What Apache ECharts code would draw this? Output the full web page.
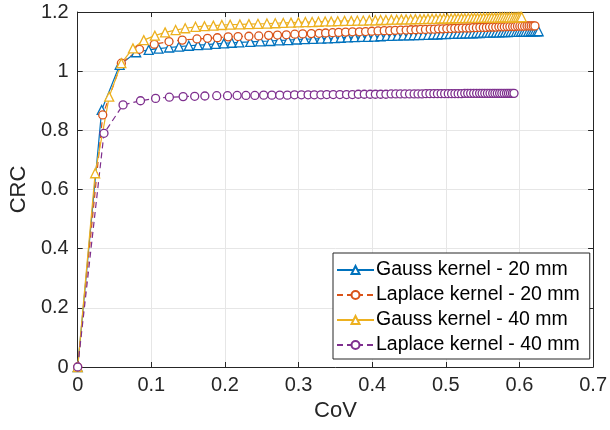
<!DOCTYPE html>
<html><head><meta charset="utf-8">
<script src="https://cdn.jsdelivr.net/npm/echarts@6/dist/echarts.min.js"></script>
<style>html,body{margin:0;padding:0;background:#fff}#c{width:610px;height:430px}</style>
</head><body><div id="c"></div>
<script>
const xTicks = [0,0.1,0.2,0.3,0.4,0.5,0.6,0.7];
const yTicks = [0,0.2,0.4,0.6,0.8,1,1.2];
const seriesNames = ['Gauss kernel - 20 mm','Laplace kernel - 20 mm','Gauss kernel - 40 mm','Laplace kernel - 40 mm'];

const gauss20X = [0,0.0326,0.057,0.0794,0.0964,0.1098,0.1241,0.1375,0.1509,0.1633,0.1755,0.1872,0.1985,0.2093,0.2195,0.2344,0.2479,0.2614,0.2735,0.2857,0.2973,0.3080,0.3198,0.3306,0.3394,0.3490,0.3573,0.3667,0.3762,0.3857,0.3941,0.4026,0.4112,0.4196,0.4271,0.4345,0.4422,0.4497,0.4563,0.4629,0.4694,0.4761,0.4826,0.4883,0.4939,0.4997,0.5053,0.5110,0.5162,0.5214,0.5265,0.5317,0.5365,0.5412,0.5458,0.5506,0.5553,0.5595,0.5638,0.5681,0.5723,0.5766,0.5803,0.5840,0.5879,0.5916,0.5954,0.5987,0.6021,0.6053,0.6084,0.6119,0.6152,0.6180,0.6208,0.6237,0.6260];
const gauss20Y = [0,0.869,1.021,1.064,1.072,1.076,1.080,1.083,1.086,1.088,1.090,1.092,1.094,1.096,1.097,1.099,1.101,1.102,1.104,1.105,1.107,1.108,1.109,1.110,1.111,1.112,1.113,1.114,1.115,1.116,1.116,1.117,1.118,1.119,1.119,1.120,1.121,1.121,1.122,1.122,1.123,1.123,1.124,1.124,1.125,1.125,1.126,1.126,1.127,1.127,1.128,1.128,1.128,1.129,1.129,1.130,1.130,1.130,1.131,1.131,1.131,1.132,1.132,1.132,1.133,1.133,1.133,1.133,1.134,1.134,1.134,1.134,1.135,1.135,1.135,1.135,1.135];

const laplace20X = [0,0.034,0.0593,0.0839,0.104,0.124,0.142,0.162,0.1763,0.1897,0.2044,0.2178,0.2325,0.2459,0.2593,0.2713,0.2834,0.2949,0.3056,0.3173,0.328,0.3367,0.3462,0.3545,0.3638,0.3732,0.3826,0.3910,0.3994,0.4079,0.4163,0.4237,0.4311,0.4387,0.4461,0.4527,0.4592,0.4657,0.4723,0.4788,0.4844,0.4900,0.4957,0.5013,0.5069,0.5121,0.5173,0.5223,0.5275,0.5322,0.5369,0.5415,0.5462,0.5509,0.5551,0.5593,0.5636,0.5678,0.5720,0.5757,0.5794,0.5832,0.5869,0.5907,0.5939,0.5973,0.6005,0.6036,0.6070,0.6103,0.6131,0.6159,0.6187,0.6210];
const laplace20Y = [0,0.852,1.027,1.074,1.091,1.100,1.105,1.109,1.111,1.113,1.116,1.117,1.118,1.119,1.121,1.122,1.123,1.125,1.126,1.127,1.128,1.129,1.130,1.131,1.132,1.133,1.133,1.134,1.135,1.136,1.137,1.137,1.138,1.139,1.139,1.140,1.140,1.141,1.141,1.142,1.142,1.143,1.143,1.144,1.144,1.145,1.145,1.146,1.146,1.146,1.147,1.147,1.148,1.148,1.148,1.149,1.149,1.149,1.150,1.150,1.150,1.151,1.151,1.151,1.151,1.152,1.152,1.152,1.152,1.153,1.153,1.153,1.153,1.153];

const gauss40X = [0,0.0237,0.0428,0.0593,0.075,0.0897,0.1048,0.1187,0.133,0.146,0.16,0.1722,0.1842,0.1958,0.2071,0.2203,0.2325,0.2448,0.2570,0.2683,0.2792,0.2897,0.2997,0.3092,0.3184,0.3270,0.3361,0.3443,0.3532,0.3624,0.3715,0.3797,0.3878,0.3961,0.4042,0.4114,0.4186,0.4260,0.4332,0.4396,0.4459,0.4522,0.4586,0.4649,0.4703,0.4758,0.4813,0.4867,0.4922,0.4972,0.5023,0.5072,0.5122,0.5167,0.5213,0.5258,0.5304,0.5350,0.5390,0.5431,0.5473,0.5513,0.5554,0.5590,0.5626,0.5663,0.5699,0.5735,0.5767,0.5799,0.5831,0.5861,0.5894,0.5926,0.5953,0.5981,0.6008,0.6030];
const gauss40Y = [0,0.655,0.914,1.027,1.077,1.105,1.120,1.131,1.139,1.145,1.150,1.152,1.154,1.156,1.157,1.158,1.159,1.160,1.161,1.162,1.163,1.164,1.165,1.166,1.166,1.167,1.168,1.168,1.169,1.170,1.170,1.171,1.171,1.172,1.172,1.173,1.173,1.174,1.174,1.175,1.175,1.175,1.176,1.176,1.176,1.177,1.177,1.177,1.178,1.178,1.178,1.178,1.179,1.179,1.179,1.179,1.180,1.180,1.180,1.180,1.180,1.181,1.181,1.181,1.181,1.181,1.181,1.182,1.182,1.182,1.182,1.182,1.182,1.182,1.182,1.183,1.183,1.183];

const laplace40X = [0,0.0357,0.0616,0.0853,0.1058,0.1245,0.1432,0.1589,0.1727,0.1888,0.2035,0.2165,0.2285,0.2406,0.2526,0.2637,0.2744,0.2847,0.2945,0.3039,0.3129,0.3213,0.3303,0.3383,0.3471,0.3561,0.3651,0.3731,0.3811,0.3892,0.3972,0.4043,0.4114,0.4186,0.4257,0.4320,0.4382,0.4444,0.4507,0.4569,0.4622,0.4676,0.4730,0.4783,0.4837,0.4886,0.4936,0.4984,0.5033,0.5078,0.5123,0.5167,0.5212,0.5257,0.5297,0.5337,0.5378,0.5418,0.5458,0.5493,0.5529,0.5565,0.5600,0.5636,0.5667,0.5699,0.5730,0.5760,0.5792,0.5823,0.5850,0.5877,0.5904,0.5926];
const laplace40Y = [0,0.790,0.886,0.900,0.908,0.912,0.914,0.915,0.916,0.917,0.917,0.918,0.918,0.918,0.919,0.919,0.919,0.919,0.920,0.920,0.920,0.920,0.920,0.921,0.921,0.921,0.921,0.921,0.922,0.922,0.922,0.922,0.922,0.922,0.923,0.923,0.923,0.923,0.923,0.923,0.923,0.923,0.924,0.924,0.924,0.924,0.924,0.924,0.924,0.924,0.924,0.924,0.924,0.925,0.925,0.925,0.925,0.925,0.925,0.925,0.925,0.925,0.925,0.925,0.925,0.925,0.925,0.925,0.925,0.925,0.925,0.925,0.925,0.925];

const colors = ['#0072BD','#D95319','#EDB120','#7E2F8E'];
const FONT = '"Liberation Sans", Arial, Helvetica, sans-serif';
const AX = '#262626';

function zip(xs, ys){ return xs.map((x,i)=>[x, ys[i]]); }

function mkSeries(name, xs, ys, color, symbol, size, dashed){
  return {
    name, type:'line', data: zip(xs, ys), clip:false,
    symbol, symbolSize:size, showAllSymbol:true,
    lineStyle:{color, width:1.2, type: dashed ? [6,4] : 'solid'},
    itemStyle:{color:'#ffffff', borderColor:color, borderWidth:1.3},
    emphasis:{disabled:true}, animation:false
  };
}

const chart = echarts.init(document.getElementById('c'), null, {renderer:'canvas'});
const axisCommon = {
  type:'value', axisLine:{show:true, onZero:false, lineStyle:{color:AX, width:1}},
  axisTick:{show:true, inside:true, length:5, lineStyle:{color:AX}},
};
chart.setOption({
  animation:false,
  grid:{left:74, right:13, top:12, bottom:63, containLabel:false},
  xAxis:[
    Object.assign({}, axisCommon, {min:xTicks[0], max:xTicks[xTicks.length-1], interval:0.1, position:'bottom',
      name:'CoV', nameLocation:'middle', nameGap:32, nameTextStyle:{fontFamily:FONT, fontSize:22, color:AX},
      axisLabel:{fontFamily:FONT, fontSize:20, color:AX, margin:8, formatter:v=>String(+v.toFixed(2))},
      splitLine:{show:true, lineStyle:{color:'#e6e6e6', width:1}}}),
    Object.assign({}, axisCommon, {min:xTicks[0], max:xTicks[xTicks.length-1], interval:0.1, position:'top',
      axisLabel:{show:false}, splitLine:{show:false}})
  ],
  yAxis:[
    Object.assign({}, axisCommon, {min:yTicks[0], max:yTicks[yTicks.length-1], interval:0.2, position:'left',
      name:'CRC', nameLocation:'middle', nameGap:41, nameTextStyle:{fontFamily:FONT, fontSize:22, color:AX},
      axisLabel:{fontFamily:FONT, fontSize:20, color:AX, margin:9, formatter:v=>String(+v.toFixed(2))},
      splitLine:{show:true, lineStyle:{color:'#e6e6e6', width:1}}}),
    Object.assign({}, axisCommon, {min:yTicks[0], max:yTicks[yTicks.length-1], interval:0.2, position:'right',
      axisLabel:{show:false}, splitLine:{show:false}})
  ],
  legend:{
    orient:'vertical', left:333, top:253,
    backgroundColor:'#ffffff', borderColor:AX, borderWidth:1,
    padding:[7,10,4,3], itemWidth:37, itemHeight:10, itemGap:5,
    textStyle:{fontFamily:FONT, fontSize:19.5, color:'#000000', padding:[0,0,0,-3]},
    data: seriesNames
  },
  series:[
    mkSeries(seriesNames[0], gauss20X, gauss20Y, colors[0], 'triangle', 9, false),
    mkSeries(seriesNames[1], laplace20X, laplace20Y, colors[1], 'circle', 8, true),
    mkSeries(seriesNames[2], gauss40X, gauss40Y, colors[2], 'triangle', 9, false),
    mkSeries(seriesNames[3], laplace40X, laplace40Y, colors[3], 'circle', 8, true)
  ]
});
</script></body></html>
